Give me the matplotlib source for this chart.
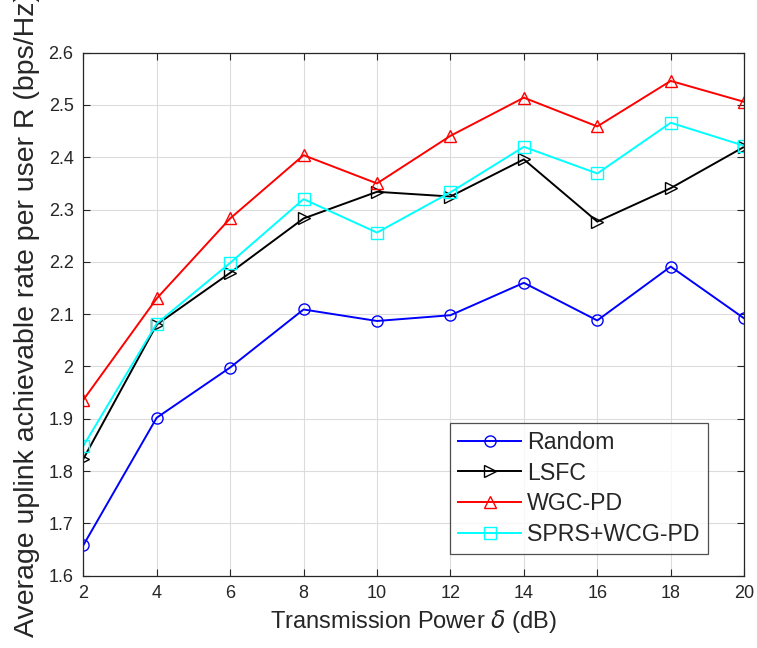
import matplotlib.pyplot as plt
import numpy as np

plt.rcParams['font.family'] = ['Liberation Sans', 'DejaVu Sans']
plt.rcParams['mathtext.fontset'] = 'dejavusans'

# Data
power_db = [2, 4, 6, 8, 10, 12, 14, 16, 18, 20]
random_rate = [1.658, 1.902, 1.998, 2.109, 2.087, 2.098, 2.160, 2.088, 2.191, 2.092]
lsfc_rate = [1.823, 2.080, 2.179, 2.283, 2.334, 2.325, 2.396, 2.277, 2.341, 2.420]
wgc_pd_rate = [1.936, 2.130, 2.283, 2.404, 2.350, 2.441, 2.514, 2.459, 2.546, 2.506]
sprs_rate = [1.848, 2.082, 2.198, 2.320, 2.256, 2.333, 2.420, 2.369, 2.466, 2.422]

x_ticks = [2, 4, 6, 8, 10, 12, 14, 16, 18, 20]
y_ticks = [1.6, 1.7, 1.8, 1.9, 2.0, 2.1, 2.2, 2.3, 2.4, 2.5, 2.6]
y_tick_labels = ['1.6', '1.7', '1.8', '1.9', '2', '2.1', '2.2', '2.3', '2.4', '2.5', '2.6']

fig = plt.figure(figsize=(7.57, 6.48), dpi=100)
ax = fig.add_axes([0.110, 0.1116, 0.873, 0.8071])

ms = 8
lw = 1.4
ax.plot(power_db, random_rate, color='#0000FF', marker='o', mfc='none', ms=ms, lw=lw, label='Random')
ax.plot(power_db, lsfc_rate, color='black', marker='>', mfc='none', ms=ms, lw=lw, label='LSFC')
ax.plot(power_db, wgc_pd_rate, color='#FF0000', marker='^', mfc='none', ms=ms, lw=lw, label='WGC-PD')
ax.plot(power_db, sprs_rate, color='#00FFFF', marker='s', mfc='none', ms=ms, lw=lw, label='SPRS+WCG-PD')

ax.set_xlim(2, 20)
ax.set_ylim(1.6, 2.6)
ax.set_xticks(x_ticks)
ax.set_yticks(y_ticks)
ax.set_yticklabels(y_tick_labels)
ax.grid(True, color='#dcdcdc', linewidth=0.8)
ax.set_axisbelow(True)

ax.tick_params(direction='in', length=5, width=0.8, top=True, right=True,
               labelsize=13, colors='#262626', pad=7)
for s in ax.spines.values():
    s.set_color('#262626')
    s.set_linewidth(0.9)

ax.set_xlabel(r'Transmission Power $\delta$ (dB)', fontsize=17, color='#262626', labelpad=4)
ax.set_ylabel('Average uplink achievable rate per user R (bps/Hz)', fontsize=20.5, color='#262626')
ax.yaxis.set_label_coords(-0.066, 0.5)

leg = ax.legend(loc='lower right', bbox_to_anchor=(0.9446, 0.0415), fontsize=16.7,
                handlelength=2.7, handletextpad=0.25, labelspacing=0.33,
                borderpad=0.35, frameon=True, fancybox=False, borderaxespad=0)
leg.get_frame().set_edgecolor('#262626')
leg.get_frame().set_linewidth(0.9)
for t in leg.get_texts():
    t.set_color('#262626')

fig.savefig('out.png', dpi=100)
